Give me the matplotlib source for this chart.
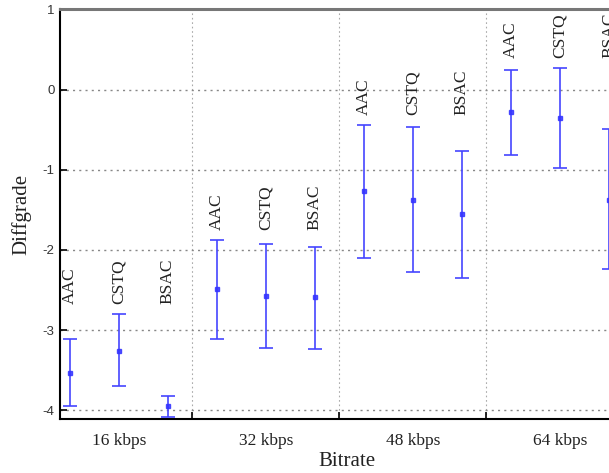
import matplotlib
matplotlib.use("Agg")
import matplotlib.pyplot as plt
import numpy as np

bitrates = ["16 kbps", "32 kbps", "48 kbps", "64 kbps"]
codecs = ["AAC", "CSTQ", "BSAC"]
# mean values per bitrate (rows) x codec (cols)
means = [[-3.53, -3.26, -3.95],
         [-2.49, -2.575, -2.59],
         [-1.26, -1.375, -1.55],
         [-0.28, -0.36, -1.375]]
upper = [[-3.11, -2.80, -3.82],
         [-1.875, -1.925, -1.96],
         [-0.44, -0.47, -0.76],
         [0.245, 0.27, -0.49]]
lower = [[-3.95, -3.70, -4.09],
         [-3.11, -3.225, -3.24],
         [-2.10, -2.28, -2.35],
         [-0.81, -0.98, -2.24]]
yticks = [-4, -3, -2, -1, 0, 1]

W, H = 609, 473
fig = plt.figure(figsize=(W / 100, H / 100), dpi=100)
left_px, right_px, top_px, bot_px = 60, 633.5, 9.5, 419
ax = fig.add_axes([left_px / W, 1 - bot_px / H, (right_px - left_px) / W, (bot_px - top_px) / H])

serif = ["Liberation Serif", "DejaVu Serif"]
sans = ["Liberation Sans", "DejaVu Sans"]

offsets = np.array([-1 / 3, 0, 1 / 3])
m = np.array(means)
up = np.array(upper)
lo = np.array(lower)
for i in range(len(bitrates)):
    xs = i + offsets
    ax.errorbar(xs, m[i], yerr=[m[i] - lo[i], up[i] - m[i]], fmt="s", ms=3,
                color="#3333ff", ecolor="#4444ff", elinewidth=1.4, capsize=5,
                capthick=1.4, alpha=0.85, clip_on=False, zorder=3)
    ytxt = up[i].max() + 0.12
    for x, c in zip(xs, codecs):
        ax.text(x, ytxt, c, rotation=90, ha="center", va="bottom",
                fontsize=12.5, family=serif, color="#222222")

ax.set_xlim(-0.4, 3.5)
ax.set_ylim(-4.11, 1)
ax.set_yticks(yticks)
ax.set_yticklabels([str(v) for v in yticks], family=sans, fontsize=9.5, color="#333333")
ax.set_xticks(range(len(bitrates)))
ax.set_xticklabels(bitrates, family=serif, fontsize=12.5, color="#222222")
ax.set_xticks(np.arange(len(bitrates)) + 0.5, minor=True)
ax.tick_params(axis="x", which="major", length=0, pad=10)
ax.tick_params(axis="x", which="minor", direction="in", length=5, width=1.2)
ax.tick_params(axis="y", which="major", direction="in", length=5, width=1.2, pad=4)

ax.grid(True, axis="y", which="major", linestyle=(0, (1.5, 3)), color="#888888", linewidth=1)
ax.grid(True, axis="x", which="minor", linestyle=(0, (1.5, 2.5)), color="#aaaaaa", linewidth=0.8)
ax.spines["right"].set_visible(False)
ax.spines["left"].set_linewidth(1.5)
ax.spines["bottom"].set_linewidth(1.5)
ax.spines["top"].set_color("#777777")
ax.spines["top"].set_linewidth(2.2)
ax.spines["top"].set_linestyle((0, (1, 1)))

ax.set_ylabel("Diffgrade", family=serif, fontsize=15, labelpad=8, color="#222222")
ax.set_xlabel("Bitrate", family=serif, fontsize=15, labelpad=2, color="#222222")

fig.savefig("out.png", dpi=100)
